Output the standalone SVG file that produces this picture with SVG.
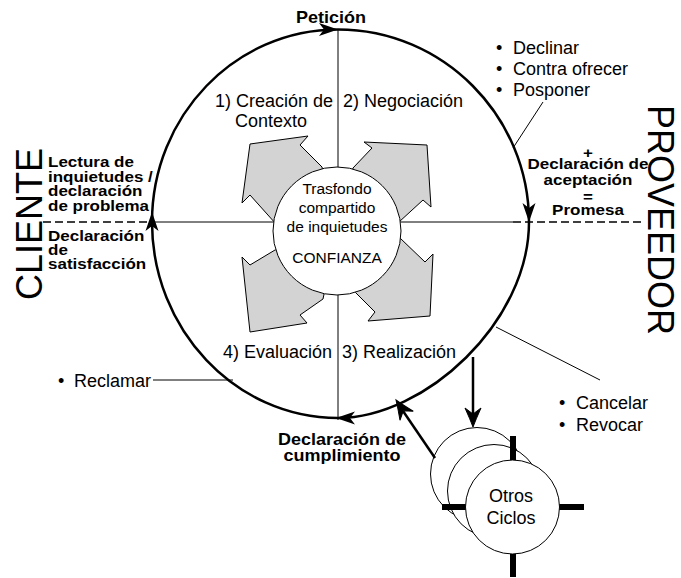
<svg xmlns="http://www.w3.org/2000/svg" width="681" height="578" viewBox="0 0 681 578">
<style>
text{font-family:"Liberation Sans",Arial,Helvetica,sans-serif;fill:#000}
.r18{font-size:18px}
.in{font-size:15.5px;text-anchor:middle}
.b17{font-size:17px;font-weight:bold}
.b18{font-size:18px;font-weight:bold}
.mid{text-anchor:middle}
.big{font-size:36px;text-anchor:middle}
.thin{stroke:#000;stroke-width:1;fill:none}
.thick{stroke:#000;stroke-width:2.5;fill:none}
.dash{stroke:#000;stroke-width:1.5;stroke-dasharray:8 4;fill:none}
.garrow{fill:#d3d3d3;stroke:#000;stroke-width:1;stroke-linejoin:miter}
.arm{stroke:#000;stroke-width:6}
</style>
<defs>
<path id="ah" d="M0,0 L-19,-6.5 L-14,0 L-19,6.5 Z" fill="#000"/>
<path id="ah2" d="M0,0 Q-8,-3 -19,-8 L-13,0 L-19,8 Q-8,3 0,0 Z" fill="#000" stroke="#000" stroke-width="1"/>
</defs>
<rect width="681" height="578" fill="#fff"/>

<g id="side-labels">
<text class="big" transform="translate(42,224) rotate(-90)">CLIENTE</text>
<text class="big" transform="translate(648,220) rotate(90)">PROVEEDOR</text>
</g>

<g id="axes">
<line class="thin" x1="338" y1="30" x2="338" y2="420"/>
<line class="thin" x1="153" y1="222" x2="513" y2="222"/>
<line class="dash" x1="43" y1="222" x2="153" y2="222"/>
<line class="dash" x1="513" y1="222" x2="641" y2="222"/>
</g>

<g id="main-cycle">
<path class="thick" d="M338,29.5 C443,29.5 529,116 529,222 C529,322 425,418 338,418 C235,418 152,329 152,222 C152,116 235,29.5 338,29.5 Z"/>
<use href="#ah" transform="translate(338,29.5)"/>
<use href="#ah" transform="translate(529,222) rotate(90)"/>
<use href="#ah" transform="translate(336,418) rotate(180)"/>
<use href="#ah" transform="translate(152,212) rotate(-90)"/>
</g>

<g id="phase-arrows">
<polygon class="garrow" points="250,144 308,136 300,145 322,167 337,231 276,224 250,195 242,203"/>
<polygon class="garrow" points="427,145 431,207 423,200 399,222 337,231 353,168 372,148 364,142"/>
<polygon class="garrow" points="250,332 307,323 300,315 323,299 337,231 275,250 250,265 242,257"/>
<polygon class="garrow" points="430,316 368,321 375,312 353,290 337,231 400,238 425,262 433,254"/>
</g>

<g id="center">
<circle cx="337" cy="231" r="64" fill="#fff" stroke="#000" stroke-width="1"/>
<text class="in" x="337" y="194">Trasfondo</text>
<text class="in" x="337" y="213">compartido</text>
<text class="in" x="337" y="232">de inquietudes</text>
<text class="in" x="337" y="263">CONFIANZA</text>
</g>

<g id="phase-labels">
<text class="r18" x="215" y="107">1) Creación de</text>
<text class="r18" x="235" y="127">Contexto</text>
<text class="r18" x="343" y="107">2) Negociación</text>
<text class="r18" x="223" y="358">4) Evaluación</text>
<text class="r18" x="342" y="358">3) Realización</text>
</g>

<g id="peticion">
<text class="b18 mid" transform="translate(331,23) scale(1,0.87)">Petición</text>
</g>

<g id="cliente-labels">
<text class="b17" transform="translate(48,166.5) scale(1,0.87)">Lectura de</text>
<text class="b17" transform="translate(48,181.5) scale(1,0.87)">inquietudes /</text>
<text class="b17" transform="translate(48,195.5) scale(1,0.87)">declaración</text>
<text class="b17" transform="translate(48,211) scale(1,0.87)">de problema</text>
<text class="b17" transform="translate(48,241) scale(1,0.87)">Declaración</text>
<text class="b17" transform="translate(48,254.5) scale(1,0.87)">de</text>
<text class="b17" transform="translate(48,269) scale(1,0.87)">satisfacción</text>
</g>

<g id="promesa-labels">
<text class="b17 mid" transform="translate(588,158) scale(1,0.87)">+</text>
<text class="b17 mid" transform="translate(588,169) scale(1,0.87)">Declaración de</text>
<text class="b17 mid" transform="translate(588,185) scale(1,0.87)">aceptación</text>
<text class="b17 mid" transform="translate(588,202) scale(1,0.87)">=</text>
<text class="b17 mid" transform="translate(588,215) scale(1,0.87)">Promesa</text>
</g>

<g id="cumplimiento-label">
<text class="b18 mid" transform="translate(342,445) scale(1,0.87)">Declaración de</text>
<text class="b18 mid" transform="translate(342,461) scale(1,0.87)">cumplimiento</text>
</g>

<g id="negociacion-options">
<text class="r18" x="496" y="54">•</text><text class="r18" x="513" y="54">Declinar</text>
<text class="r18" x="496" y="75">•</text><text class="r18" x="513" y="75">Contra ofrecer</text>
<text class="r18" x="496" y="96">•</text><text class="r18" x="513" y="96">Posponer</text>
</g>

<g id="reclamar-option">
<text class="r18" x="58" y="387">•</text><text class="r18" x="74" y="387">Reclamar</text>
</g>

<g id="cancel-options">
<text class="r18" x="559" y="409">•</text><text class="r18" x="576" y="409">Cancelar</text>
<text class="r18" x="559" y="431">•</text><text class="r18" x="576" y="431">Revocar</text>
</g>

<g id="other-cycles">
<circle cx="477" cy="474" r="46.5" fill="#fff" stroke="#000" stroke-width="1"/>
<circle cx="494" cy="491" r="46.5" fill="#fff" stroke="#000" stroke-width="1"/>
<line class="arm" x1="513" y1="436" x2="513" y2="577"/>
<line class="arm" x1="442" y1="507" x2="584" y2="507"/>
<circle cx="512.5" cy="507" r="47" fill="#fff" stroke="#000" stroke-width="1"/>
<text class="r18 mid" x="511" y="502">Otros</text>
<text class="r18 mid" x="511" y="523.5">Ciclos</text>
</g>

<g id="connectors">
<line class="thin" x1="543" y1="102" x2="513" y2="148"/>
<line class="thin" x1="496" y1="327" x2="600" y2="380"/>
<line class="thin" x1="153" y1="380" x2="233" y2="380"/>
<line class="thick" x1="473" y1="357" x2="473" y2="414"/>
<use href="#ah2" transform="translate(473,427) rotate(90)"/>
<line class="thick" x1="435" y1="458" x2="403" y2="411"/>
<use href="#ah2" transform="translate(396,400) rotate(-124)"/>
</g>
</svg>
